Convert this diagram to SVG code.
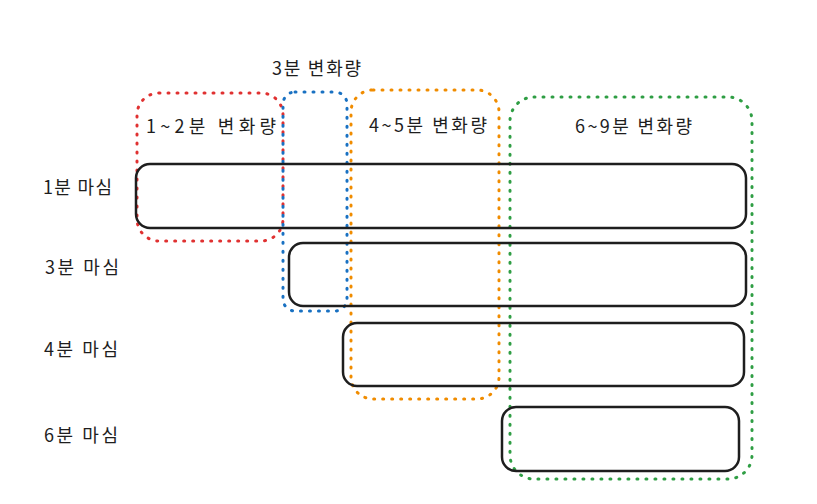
<svg xmlns="http://www.w3.org/2000/svg" width="817" height="504" viewBox="0 0 817 504">
<style>
  text { font-family: "Noto Sans CJK KR", "Noto Sans", sans-serif; font-size: 18px; font-weight: 400; fill: #1e1e1e; }
  .bar { fill: none; stroke: #1e1e1e; stroke-width: 2.5; }
  .dot { fill: none; stroke-width: 3; stroke-linecap: round; stroke-dasharray: 1 8; }
</style>
<rect width="817" height="504" fill="#ffffff"/>
<g id="groups">
  <g id="red-1-2"><rect class="dot" x="137" y="93" width="146" height="148" rx="22" stroke="#e03131"/><text x="146" y="133" textLength="130" lengthAdjust="spacing">1~2분 변화량</text></g>
  <g id="blue-3"><rect class="dot" x="283" y="92" width="64" height="219" rx="12" stroke="#1971c2"/><text x="272" y="75" textLength="89" lengthAdjust="spacing">3분 변화량</text></g>
  <g id="orange-4-5"><rect class="dot" x="351" y="90" width="148" height="309" rx="22" stroke="#f08c00"/><text x="369" y="132" textLength="118" lengthAdjust="spacing">4~5분 변화량</text></g>
  <g id="green-6-9"><rect class="dot" x="510" y="97" width="242" height="382" rx="24" stroke="#2f9e44"/><text x="575" y="133" textLength="117" lengthAdjust="spacing">6~9분 변화량</text></g>
</g>
<g id="bars">
  <g id="bar-1"><rect class="bar" x="136" y="164" width="610" height="64" rx="14"/><text x="43" y="194" textLength="69" lengthAdjust="spacing">1분 마심</text></g>
  <g id="bar-3"><rect class="bar" x="289" y="243" width="457" height="63" rx="14"/><text x="45" y="274" textLength="74" lengthAdjust="spacing">3분 마심</text></g>
  <g id="bar-4"><rect class="bar" x="343" y="323" width="401" height="63" rx="14"/><text x="44" y="356" textLength="74" lengthAdjust="spacing">4분 마심</text></g>
  <g id="bar-6"><rect class="bar" x="502" y="407" width="237" height="64" rx="14"/><text x="44" y="442" textLength="74" lengthAdjust="spacing">6분 마심</text></g>
</g>
<g id="connectors"></g>
</svg>
